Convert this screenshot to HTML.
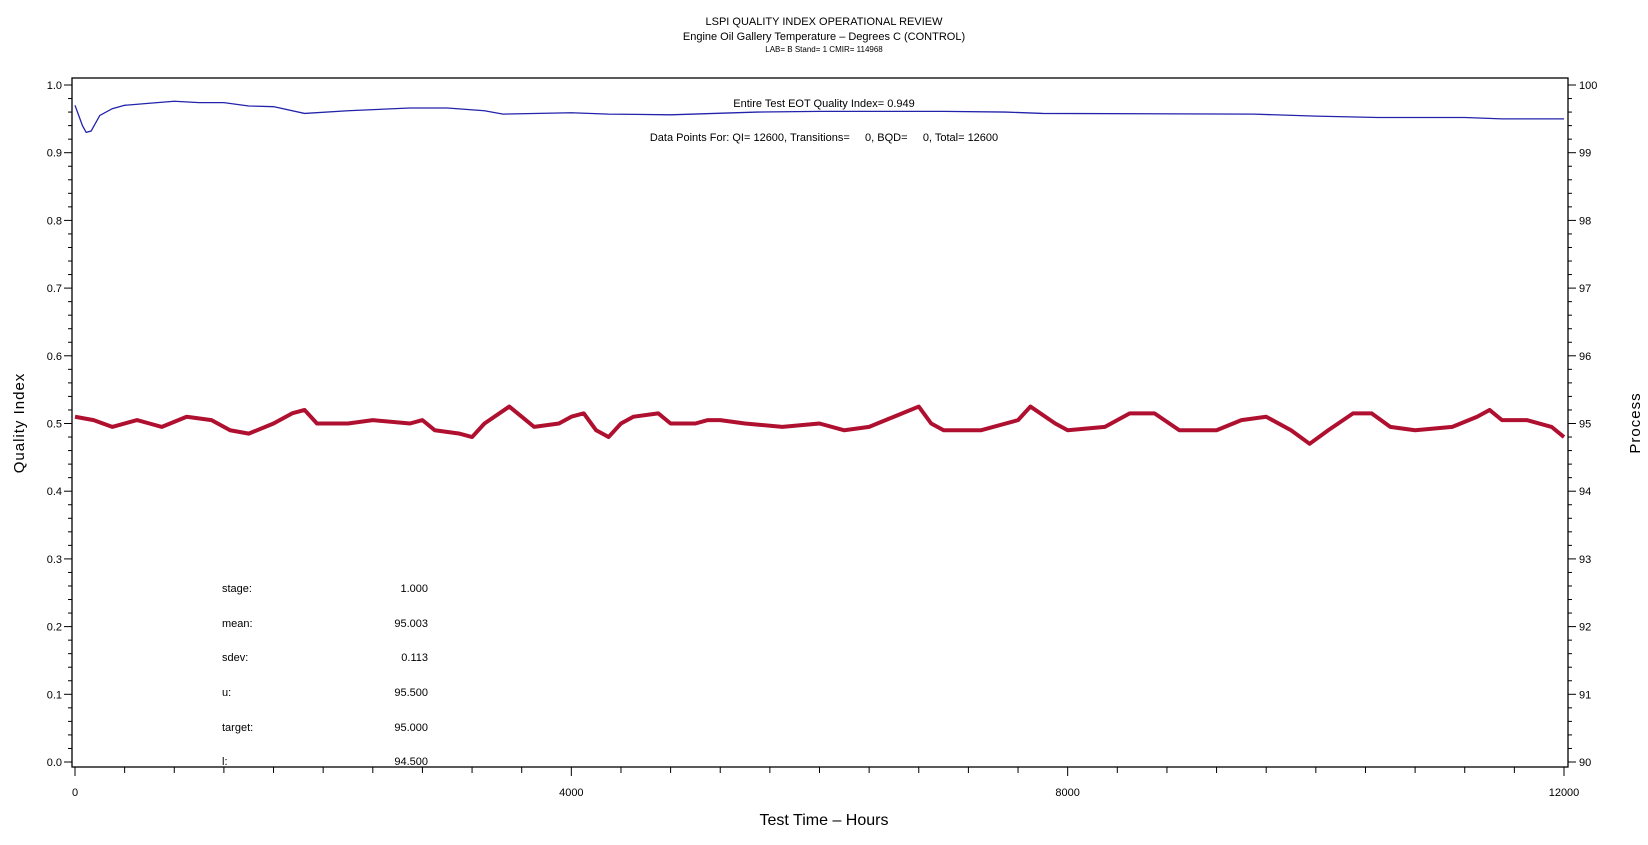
<!DOCTYPE html>
<html><head><meta charset="utf-8"><style>
html,body{margin:0;padding:0;background:#fff;}
svg{display:block;font-family:"Liberation Sans",sans-serif;}
</style></head><body>
<svg id="chart" width="1648" height="845" viewBox="0 0 1648 845">
<text x="824" y="25" font-size="11" text-anchor="middle">LSPI QUALITY INDEX OPERATIONAL REVIEW</text>
<text x="824" y="40" font-size="11" text-anchor="middle">Engine Oil Gallery Temperature – Degrees C (CONTROL)</text>
<text x="824" y="52" font-size="8" text-anchor="middle">LAB= B Stand= 1 CMIR= 114968</text>
<rect x="72" y="78" width="1496" height="689" fill="none" stroke="#000" stroke-width="1.3"/>
<g id="axes"></g>
<g id="series"></g>
<text x="824" y="107" font-size="11" text-anchor="middle">Entire Test EOT Quality Index=   0.949</text>
<text x="824" y="141" font-size="11" text-anchor="middle" xml:space="preserve">Data Points For: QI= 12600, Transitions=     0, BQD=     0, Total= 12600</text>
<g font-size="11">
<text x="222" y="592">stage:</text><text x="428" y="592" text-anchor="end">1.000</text>
<text x="222" y="627">mean:</text><text x="428" y="627" text-anchor="end">95.003</text>
<text x="222" y="661">sdev:</text><text x="428" y="661" text-anchor="end">0.113</text>
<text x="222" y="696">u:</text><text x="428" y="696" text-anchor="end">95.500</text>
<text x="222" y="731">target:</text><text x="428" y="731" text-anchor="end">95.000</text>
<text x="222" y="765">l:</text><text x="428" y="765" text-anchor="end">94.500</text>
</g>
<text x="824" y="825" font-size="16" text-anchor="middle">Test Time – Hours</text>
<text transform="translate(24,423) rotate(-90)" font-size="15" text-anchor="middle" letter-spacing="1">Quality Index</text>
<text transform="translate(1640,423) rotate(-90)" font-size="15" text-anchor="middle" letter-spacing="1">Process</text>
</svg>
<script>
const xTicks=[0,4000,8000,12000];
const qiTicks=[0,0.1,0.2,0.3,0.4,0.5,0.6,0.7,0.8,0.9,1.0];
const procTicks=[90,91,92,93,94,95,96,97,98,99,100];
const qiHours=[0,30,60,90,130,200,300,400,600,800,1000,1200,1400,1600,1850,2200,2700,3000,3300,3450,4000,4300,4800,5500,6000,7000,7500,7800,9500,10000,10500,11200,11500,12000];
const qiValues=[0.97,0.955,0.94,0.93,0.932,0.955,0.965,0.97,0.973,0.976,0.974,0.974,0.969,0.968,0.958,0.962,0.966,0.966,0.962,0.957,0.959,0.957,0.956,0.960,0.961,0.961,0.960,0.958,0.957,0.954,0.952,0.952,0.950,0.950];
const procHours=[0,150,300,500,600,700,900,1100,1250,1400,1600,1750,1850,1950,2200,2400,2700,2800,2900,3100,3200,3300,3500,3600,3700,3900,4000,4100,4200,4300,4400,4500,4700,4800,5000,5100,5200,5400,5700,6000,6200,6400,6600,6800,6900,7000,7300,7600,7700,7900,8000,8300,8500,8700,8900,9200,9400,9600,9800,9950,10100,10300,10450,10600,10800,11100,11300,11400,11500,11700,11900,12000];
const procValues=[95.1,95.05,94.95,95.05,95.0,94.95,95.1,95.05,94.9,94.85,95.0,95.15,95.2,95.0,95.0,95.05,95.0,95.05,94.9,94.85,94.8,95.0,95.25,95.1,94.95,95.0,95.1,95.15,94.9,94.8,95.0,95.1,95.15,95.0,95.0,95.05,95.05,95.0,94.95,95.0,94.9,94.95,95.1,95.25,95.0,94.9,94.9,95.05,95.25,95.0,94.9,94.95,95.15,95.15,94.9,94.9,95.05,95.1,94.9,94.7,94.9,95.15,95.15,94.95,94.9,94.95,95.1,95.2,95.05,95.05,94.95,94.8];
const X0=75,X1=1564,YT=85,YB=762;
const xs=h=>X0+(h/12000)*(X1-X0);
const yq=v=>YB-v*(YB-YT);
const yp=v=>YB-(v-90)/10*(YB-YT);
const NS="http://www.w3.org/2000/svg";
const axes=document.getElementById('axes'),series=document.getElementById('series');
function mk(tag,attrs,parent){const e=document.createElementNS(NS,tag);for(const k in attrs)e.setAttribute(k,attrs[k]);parent.appendChild(e);return e;}
for(let h=0;h<=12000;h+=400){const major=h%4000===0;const t=mk('line',{x1:xs(h),x2:xs(h),y1:767,y2:major?776:773,stroke:'#000'},axes);

}
xTicks.forEach(h=>{const t=mk('text',{x:xs(h),y:796,'font-size':11,'text-anchor':'middle'},axes);t.textContent=String(h);

});
for(let i=0;i<=50;i++){const y=YB-i/50*(YB-YT);const major=i%5===0;
const a=mk('line',{x1:major?64:68,x2:72,y1:y,y2:y,stroke:'#000'},axes);


const b=mk('line',{x1:1568,x2:major?1576:1572,y1:y,y2:y,stroke:'#000'},axes);

}
qiTicks.forEach(v=>{const t=mk('text',{x:62,y:yq(v)+4,'font-size':11,'text-anchor':'end'},axes);t.textContent=v.toFixed(1);

});
procTicks.forEach(v=>{const t=mk('text',{x:1579,y:yp(v)+4,'font-size':11},axes);t.textContent=String(v);

});
const qiLine=mk('polyline',{points:qiHours.map((h,i)=>xs(h)+','+yq(qiValues[i])).join(' '),fill:'none',stroke:'#2222aa','stroke-width':1.3},series);


const pLine=mk('polyline',{points:procHours.map((h,i)=>xs(h)+','+yp(procValues[i])).join(' '),fill:'none',stroke:'#b01030','stroke-width':4,'stroke-linejoin':'round'},series);


</script>
</body></html>
